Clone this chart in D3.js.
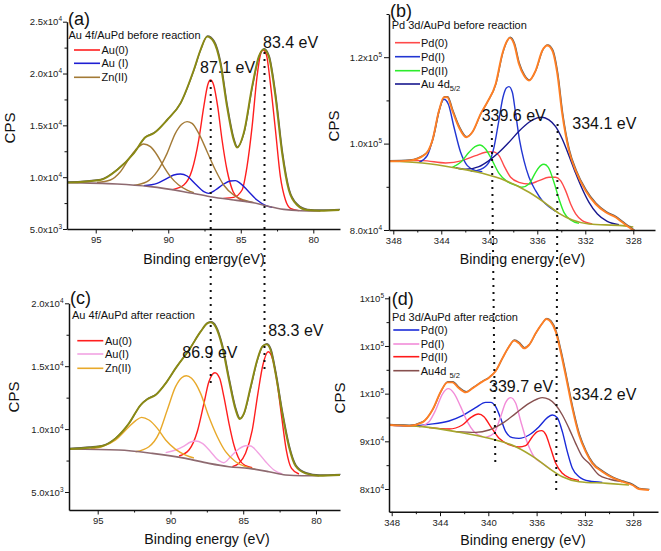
<!DOCTYPE html>
<html><head><meta charset="utf-8">
<script src="https://cdn.jsdelivr.net/npm/d3@7"></script>
<style>body{margin:0;background:#fff}svg{display:block}</style>
</head><body><script>
// ---------- Panel (a): Au 4f before reaction ----------
const aEnvelope = [[96.98,9470],[94.68,9727],[93.53,10692],[92.38,12300],[91.58,13844],[91.0,14230],[90.08,15516],[89.16,17124],[88.24,20340],[87.78,22270],[87.32,23556],[86.87,23074],[86.41,20983],[85.95,16802],[85.49,13586],[85.26,12847],[84.80,14230],[84.22,18732],[83.76,21626],[83.42,22334],[83.07,21626],[82.61,17767],[82.15,12300],[81.69,8762],[81.12,7315],[80.43,6833],[79.51,6768],[78.2,6833]];
const aBackground = [[96.98,9470],[93.53,9341],[91.23,9084],[88.93,8602],[87.09,8119],[85.49,7798],[84.11,7540],[83.19,7219],[82.04,6897],[80.89,6768],[79.51,6736]];
const aAu0Peak1 = [[89.7,8800],[88.93,9245],[88.36,10692],[87.90,13586],[87.55,16802],[87.28,18893],[87.09,19375],[86.87,18893],[86.59,16802],[86.29,13586],[85.95,10692],[85.53,8602],[85.1,7900],[84.6,7650]];
const aAu0Peak2 = [[86.2,7950],[85.5,8050],[84.91,8762],[84.57,11014],[84.22,14873],[83.88,19697],[83.65,21787],[83.46,22270],[83.23,21787],[82.96,19054],[82.61,14551],[82.27,10049],[81.92,7798],[81.58,6994],[81.0,6770]];
const aAuI = [[91.69,9180],[90.77,9406],[90.08,9888],[89.62,10210],[89.16,10306],[88.70,10113],[88.13,9341],[87.55,8602],[87.21,8441],[86.75,8762],[86.18,9341],[85.72,9631],[85.37,9663],[85.03,9406],[84.45,8602],[83.88,7798],[83.30,7283],[82.84,7090]];
const aZnPeak1 = [[94.91,9480],[93.99,9727],[93.30,10531],[92.61,11978],[92.15,12782],[91.69,13200],[91.23,12943],[90.77,12139],[90.31,11014],[89.85,10049],[89.28,9245],[88.70,8762],[88.24,8505]];
const aZnPeak2 = [[92.38,9213],[91.46,9566],[90.77,10531],[90.08,12300],[89.51,14230],[89.05,15130],[88.70,15355],[88.36,15194],[87.90,14230],[87.32,12461],[86.75,10692],[86.18,9245],[85.49,8280],[84.80,7798],[84.11,7540]];

// ---------- Panel (b): Pd 3d before reaction ----------
const bEnvelope = [[348.36,95904],[346.69,96058],[345.30,97602],[344.75,100690],[344.19,107638],[343.78,110726],[343.50,110726],[343.08,107638],[342.53,103778],[341.92,101462],[341.42,102620],[340.72,106866],[340.17,109568],[339.47,113814],[338.92,120762],[338.50,123850],[338.30,124468],[337.94,123078],[337.53,118446],[337.11,115744],[336.69,114586],[336.14,116902],[335.58,121534],[335.17,122692],[334.75,121534],[334.33,116130],[333.92,106866],[333.36,98374],[332.80,93742],[331.97,89110],[331.14,86022],[330.30,84092],[329.47,82934],[328.92,81776],[328.36,80618],[327.94,79846]];
const bBackground = [[348.36,95904],[345.58,95518],[342.80,94360],[340.58,93124],[338.64,91426],[336.69,88724],[335.31,86176],[334.19,83860],[333.08,82316],[331.69,81390],[328.92,81004],[328.0,80700]];
const bPd0 = [[347.80,96058],[345.58,96058],[343.64,95518],[342.25,96058],[341.14,97216],[340.31,97988],[339.75,98142],[339.19,97216],[338.78,94900],[338.22,92198],[337.53,91040],[336.69,90654],[335.86,91426],[335.03,92198],[334.47,92198],[334.06,91426],[333.64,89110],[333.22,86022],[332.80,83706],[332.25,82162],[331.42,81390]];
const bPdIPeak1 = [[345.86,95672],[345.17,97216],[344.61,102234],[344.19,107638],[343.78,110263],[343.42,109182],[342.94,103778],[342.39,97988],[341.83,94900],[341.14,93742],[340.58,93510]];
const bPdIPeak2 = [[341.55,93588],[340.72,94051],[340.03,95672],[339.61,99146],[339.25,104550],[338.86,110726],[338.58,112888],[338.36,113196],[338.08,111884],[337.80,106866],[337.47,100690],[337.11,96058],[336.69,92198],[336.14,89110],[335.58,86794],[335.03,85404],[334.47,84324]];
const bPdII = [[343.08,94514],[342.39,95672],[341.69,97988],[341.19,99300],[340.80,99686],[340.31,98760],[339.75,96058],[339.19,93124],[338.50,91200],[337.80,90400],[337.30,89900],[336.69,90654],[336.14,93356],[335.72,94900],[335.44,95209],[335.08,94514],[334.61,91040],[334.19,87180],[333.78,84092],[333.22,82316],[332.53,81544]];
const bAu4d = [[342.8,94400],[341.97,94051],[340.86,94668],[340.03,96058],[339.19,97988],[338.36,100304],[337.53,102852],[336.69,104936],[336.00,105940],[335.58,106094],[335.03,105476],[334.47,103932],[333.92,101076],[333.36,97216],[332.80,93124],[332.25,89496],[331.69,86408],[330.99,83706],[330.17,82008],[329.19,81236]];

// ---------- Panel (c): Au 4f after reaction ----------
const cEnvelope = [[96.97,8416],[95.60,8522],[94.68,8655],[93.77,9264],[92.85,10457],[92.05,11914],[91.59,12365],[91.02,12709],[90.33,13637],[89.65,14829],[88.73,16287],[87.93,17744],[87.47,18407],[87.24,18486],[86.90,18142],[86.44,16552],[85.98,13902],[85.52,11517],[85.25,10801],[84.95,11252],[84.49,13372],[84.04,15492],[83.69,16552],[83.40,16737],[83.12,16287],[82.78,14432],[82.32,11252],[81.86,8602],[81.40,7065],[80.72,6482],[79.80,6296],[78.35,6349]];
const cBackground = [[96.97,8416],[93.54,8337],[91.25,8072],[88.96,7674],[87.36,7277],[85.98,7012],[84.61,6879],[83.24,6614],[82.09,6349],[80.95,6296],[79.80,6296]];
const cAu0Peak1 = [[89.41,7860],[88.73,8337],[88.16,9794],[87.70,12047],[87.36,13769],[86.94,14485],[86.62,14034],[86.33,12577],[85.98,10457],[85.64,8734],[85.25,7542],[84.84,7091],[84.38,6932]];
const cAu0Peak2 = [[85.75,7012],[85.29,7277],[84.84,8072],[84.38,9927],[83.99,12842],[83.65,15094],[83.28,16154],[82.96,15492],[82.66,13637],[82.36,10987],[82.04,8337],[81.68,6879],[81.17,6429]];
const cAuI = [[90.33,8125],[89.65,8337],[89.07,8655],[88.61,8973],[88.27,9052],[87.81,8867],[87.24,8204],[86.67,7489],[86.33,7330],[85.87,7807],[85.30,8416],[84.84,8681],[84.49,8655],[84.04,8204],[83.46,7409],[82.89,6747],[82.32,6429]];
const cZnPeak1 = [[95.5,8420],[94.68,8602],[93.77,9132],[92.85,10192],[92.39,10669],[91.98,10934],[91.48,10722],[90.90,10059],[90.33,9132],[89.65,8390],[88.96,7939],[88.39,7701]];
const cZnPeak2 = [[92.39,8204],[91.48,8602],[90.79,9662],[90.22,11517],[89.65,13372],[89.23,14087],[88.91,14246],[88.55,14034],[87.93,12842],[87.36,10987],[86.78,9397],[86.21,8204],[85.52,7409],[84.84,7012],[84.15,6800]];

// ---------- Panel (d): Pd 3d after reaction ----------
const dEnvelope = [[348.22,93423],[347.12,93283],[346.56,93250],[345.46,93983],[344.63,96570],[343.94,100415],[343.39,102373],[342.98,102373],[342.43,101114],[341.87,100275],[341.32,101114],[340.49,102513],[339.94,103352],[339.39,104750],[338.84,107407],[338.29,109854],[337.87,111113],[337.46,110554],[337.04,109505],[336.63,110204],[336.08,112651],[335.53,114749],[335.20,115658],[334.84,115098],[334.42,113001],[334.01,108806],[333.60,103911],[333.04,96919],[332.49,91326],[331.94,87830],[331.39,85382],[330.56,83634],[329.73,82376],[328.90,81537],[328.08,80838],[327.53,79999],[326.70,79789]];
const dBackground = [[348.22,93423],[345.46,93074],[342.70,92025],[339.94,90626],[337.73,88878],[336.08,86431],[334.97,84334],[333.87,82586],[332.49,81537],[330.16,81187],[328.35,80838]];
const dPd0 = [[348.22,93423],[346.56,93213],[344.91,93563],[343.25,94262],[342.15,95381],[341.05,97059],[340.22,98178],[339.80,98178],[339.39,97269],[338.98,94822],[338.56,92025],[338.01,90766],[337.46,90626],[336.63,91326],[335.80,93074],[335.11,94961],[334.70,95521],[334.29,94961],[333.87,92025],[333.46,87830],[333.04,84334],[332.49,82586],[331.66,81677],[330.56,81397]];
const dPdIPeak1 = [[345.74,93004],[344.91,94122],[344.36,96570],[343.81,99856],[343.31,101044],[342.84,100066],[342.29,97269],[341.74,94122],[341.18,92025],[340.49,90976]];
const dPdIPeak2 = [[340.22,90800],[339.53,91675],[338.98,95171],[338.56,98178],[338.15,99157],[337.73,97968],[337.32,94262],[336.85,90277],[336.22,86781],[335.53,85400],[334.84,84150]];
const dPdII = [[344.91,92864],[343.25,92584],[342.15,93423],[341.46,94961],[340.82,95731],[340.36,95171],[339.80,93074],[339.11,90626],[338.29,89300],[337.46,88800],[336.91,89088],[336.35,90976],[335.94,92025],[335.58,92235],[335.25,91465],[334.84,88529],[334.42,85382],[333.87,83285],[333.18,82236],[332.49,81816]];
const dAu4d = [[342.70,92025],[341.05,91885],[339.94,92374],[338.84,93773],[337.73,95870],[336.63,97968],[335.94,98877],[335.53,99157],[334.97,98807],[334.42,97618],[333.87,95521],[333.32,92724],[332.77,89578],[332.22,86781],[331.66,85382],[330.84,82935],[330.01,82096],[328.90,81537]];

// ---------- ticks and labels ----------
const auXMajor = [95, 90, 85, 80];
const auXMinor = [92.5, 87.5, 82.5];
const pdXMajor = [348, 344, 340, 336, 332, 328];
const pdXMinor = [346, 342, 338, 334, 330];
const aYMajor = [5000, 10000, 15000, 20000, 25000];
const aYMinor = [7500, 12500, 17500, 22500];
const aYLabels = [["5.0x10","3"],["1.0x10","4"],["1.5x10","4"],["2.0x10","4"],["2.5x10","4"]];
const bYMajor = [80000, 100000, 120000];
const bYMinor = [90000, 110000, 130000];
const bYLabels = [["8.0x10","4"],["1.0x10","5"],["1.2x10","5"]];
const cYMajor = [5000, 10000, 15000, 20000];
const cYMinor = [7500, 12500, 17500];
const cYLabels = [["5.0x10","3"],["1.0x10","4"],["1.5x10","4"],["2.0x10","4"]];
const dYMajor = [80000, 90000, 100000, 110000, 120000];
const dYMinor = [85000, 95000, 105000, 115000];
const dYLabels = [["8x10","4"],["9x10","4"],["1x10","5"],["1x10","5"],["1x10","5"]];

const aLegend = [["Au(0)",""],["Au (I)",""],["Zn(II)",""]];
const bLegend = [["Pd(0)",""],["Pd(I)",""],["Pd(II)",""],["Au 4d","5/2"]];
const cLegend = [["Au(0)",""],["Au(I)",""],["Zn(II)",""]];
const dLegend = [["Pd(0)",""],["Pd(I)",""],["Pd(II)",""],["Au4d ","5/2"]];

const peakLabelsA = ["87.1 eV", "83.4 eV"];
const peakLabelsB = ["339.6 eV", "334.1 eV"];
const peakLabelsC = ["86.9 eV", "83.3 eV"];
const peakLabelsD = ["339.7 eV", "334.2 eV"];

// ---------- drawing ----------
const FONT = 'Arial, "Liberation Sans", sans-serif';
const svg = d3.select("body").append("svg").attr("width", 661).attr("height", 551)
  .style("font-family", FONT);

const OLIVE = "#8a8a14", BGPURP = "#8e6a70", ORANGE = "#ff7f24", YOLIVE = "#a6a62c";

const panels = [
  { letter:"(a)", lx:68, ly:24.5, title:"Au 4f/AuPd before reaction", tx:68.5, ty:39.3,
    px:[67,340], py:[229,21.7], xd:[96.98,78.16], yd:[5000,25000],
    xMaj:auXMajor, xMin:auXMinor, yMaj:aYMajor, yMin:aYMinor, yLab:aYLabels, yTick:4, yPad:1,
    xlabel:"Binding energy(eV)", xlx:204, xly:263.5, cpsX:15, cpsY:128,
    env:aEnvelope, envColor:OLIVE, bg:aBackground, bgColor:BGPURP,
    comps:[{d:[aAu0Peak1,aAu0Peak2], c:"#ff1e1e"},{d:[aAuI], c:"#1e1ed2"},{d:[aZnPeak1,aZnPeak2], c:"#a37a36"}],
    legend:aLegend, legX:[74,100,101.5], legY:[50,63.3,77.3],
    peaks:peakLabelsA, pk:[[200,73],[263,48]] },
  { letter:"(b)", lx:390, ly:17, title:"Pd 3d/AuPd before reaction", tx:391.7, ty:29.3,
    px:[389,655], py:[230,14], xd:[348.358,326.19], yd:[80000,130000],
    xMaj:pdXMajor, xMin:pdXMinor, yMaj:bYMajor, yMin:bYMinor, yLab:bYLabels, yTick:5, yPad:2,
    xlabel:"Binding energy (eV)", xlx:522.5, xly:264, cpsX:338.5, cpsY:126,
    env:bEnvelope, envColor:ORANGE, bg:bBackground, bgColor:YOLIVE,
    comps:[{d:[bPd0], c:"#ff4a4a"},{d:[bPdIPeak1,bPdIPeak2], c:"#2236d2"},{d:[bPdII], c:"#2cec2c"},{d:[bAu4d], c:"#18188e"}],
    legend:bLegend, legX:[395,420,421], legY:[42.7,56.7,70.7,84],
    peaks:peakLabelsB, pk:[[481.7,121],[572.3,129]] },
  { letter:"(c)", lx:70, ly:303.5, title:"Au 4f/AuPd after reaction", tx:72, ty:319.3,
    px:[69,340], py:[510,303.3], xd:[96.972,78.35], yd:[3569,20000],
    xMaj:auXMajor, xMin:auXMinor, yMaj:cYMajor, yMin:cYMinor, yLab:cYLabels, yTick:4, yPad:1.5,
    xlabel:"Binding energy (eV)", xlx:207, xly:544, cpsX:18.5, cpsY:397,
    env:cEnvelope, envColor:OLIVE, bg:cBackground, bgColor:BGPURP,
    comps:[{d:[cAu0Peak1,cAu0Peak2], c:"#ff1e1e"},{d:[cAuI], c:"#f2a2e2"},{d:[cZnPeak1,cZnPeak2], c:"#e8a92a"}],
    legend:cLegend, legX:[77.3,103.3,105], legY:[340.7,354,368.3],
    peaks:peakLabelsC, pk:[[182.3,358],[268.3,336]] },
  { letter:"(d)", lx:391.7, ly:304.5, title:"Pd 3d/AuPd after reaction", tx:392, ty:321,
    px:[389,658], py:[511.7,296], xd:[348.2235,325.95], yd:[75239,120482],
    xMaj:pdXMajor, xMin:pdXMinor, yMaj:dYMajor, yMin:dYMinor, yLab:dYLabels, yTick:4, yPad:1,
    xlabel:"Binding energy (eV)", xlx:523, xly:545, cpsX:345, cpsY:398,
    env:dEnvelope, envColor:ORANGE, bg:dBackground, bgColor:YOLIVE,
    comps:[{d:[dPd0], c:"#1a2ad8"},{d:[dPdIPeak1,dPdIPeak2], c:"#f28cd8"},{d:[dPdII], c:"#ff1a1a"},{d:[dAu4d], c:"#87504f"}],
    legend:dLegend, legX:[393.3,419.3,420.7], legY:[330,344,356.7,370.7],
    peaks:peakLabelsD, pk:[[489,392],[572.3,400]] }
];

panels.forEach(p => {
  const x = d3.scaleLinear().domain(p.xd).range(p.px);
  const y = d3.scaleLinear().domain(p.yd).range(p.py);
  const g = svg.append("g");
  const line = d3.line().x(d => x(d[0])).y(d => y(d[1])).curve(d3.curveMonotoneX);

  // components
  p.comps.forEach(c => c.d.forEach(arr => {
    g.append("path").attr("d", line(arr)).attr("fill","none").attr("stroke", c.c).attr("stroke-width", 1.4);
  }));
  // background
  g.append("path").attr("d", line(p.bg)).attr("fill","none").attr("stroke", p.bgColor).attr("stroke-width", 1.6);
  // raw data (gray) + envelope
  g.append("path").attr("d", line(p.env)).attr("fill","none").attr("stroke","#5a5a5a").attr("stroke-width",1.3)
    .attr("transform","translate(0.5,-0.7)");
  g.append("path").attr("d", line(p.env)).attr("fill","none").attr("stroke", p.envColor).attr("stroke-width", 1.9);

  // axes
  const yAx = g.append("g").attr("transform", `translate(${p.px[0]},0)`)
    .call(d3.axisLeft(y).tickValues(p.yMaj).tickSize(p.yTick).tickSizeOuter(0).tickPadding(p.yPad).tickFormat(""));
  g.append("g").attr("transform", `translate(${p.px[0]},0)`)
    .call(d3.axisLeft(y).tickValues(p.yMin).tickSize(2.5).tickSizeOuter(0).tickFormat(""))
    .call(s => s.select(".domain").remove());
  yAx.selectAll(".tick text").each(function(d, i) {
    const t = d3.select(this).attr("font-size", 9.5).attr("font-family", FONT).attr("fill","#222");
    t.append("tspan").text(p.yLab[i][0]);
    t.append("tspan").attr("dy", -4).attr("font-size", 6.5).text(p.yLab[i][1]);
  });
  const xAx = g.append("g").attr("transform", `translate(0,${p.py[0]})`)
    .call(d3.axisBottom(x).tickValues(p.xMaj).tickSize(4.5).tickSizeOuter(0).tickPadding(3).tickFormat(d3.format("d")));
  xAx.selectAll(".tick text").attr("font-size", 9.5).attr("font-family", FONT).attr("fill","#222");
  g.append("g").attr("transform", `translate(0,${p.py[0]})`)
    .call(d3.axisBottom(x).tickValues(p.xMin).tickSize(2.5).tickSizeOuter(0).tickFormat(""))
    .call(s => s.select(".domain").remove());
  g.selectAll(".domain").attr("stroke", "#111").attr("stroke-width", 1.5);
  g.selectAll(".tick line").attr("stroke", "#111").attr("stroke-width", 1);

  // axis titles
  g.append("text").attr("x", p.xlx).attr("y", p.xly).attr("text-anchor","middle")
    .attr("font-size", 14.2).attr("fill","#111").text(p.xlabel);
  g.append("text").attr("transform", `translate(${p.cpsX},${p.cpsY}) rotate(-90)`)
    .attr("text-anchor","middle").attr("font-size", 15).attr("fill","#111").text("CPS");

  // panel letter and title
  g.append("text").attr("x", p.lx).attr("y", p.ly).attr("font-size", 18).attr("fill","#111").text(p.letter);
  g.append("text").attr("x", p.tx).attr("y", p.ty).attr("font-size", 11).attr("fill","#111").text(p.title);

  // legend
  p.legend.forEach((lab, i) => {
    const yy = p.legY[i];
    g.append("line").attr("x1", p.legX[0]).attr("x2", p.legX[1]).attr("y1", yy).attr("y2", yy)
      .attr("stroke", p.comps[i].c).attr("stroke-width", 1.6);
    const t = g.append("text").attr("x", p.legX[2]).attr("y", yy + 3.9).attr("font-size", 11).attr("fill","#111");
    t.append("tspan").text(lab[0]);
    if (lab[1]) t.append("tspan").attr("dy", 3).attr("font-size", 7.5).text(lab[1]);
  });

  // peak labels
  p.peaks.forEach((lab, i) => {
    g.append("text").attr("x", p.pk[i][0]).attr("y", p.pk[i][1]).attr("font-size", 16).attr("fill","#111").text(lab);
  });
});

// dotted guide lines spanning panels
const guides = [
  [[210.7, 80], [210.7, 386]],
  [[264.5, 52], [264.5, 372]],
  [[491.7, 124], [495.3, 462]],
  [[557.6, 124], [556.2, 491]]
];
guides.forEach(gl => {
  svg.append("line").attr("x1", gl[0][0]).attr("y1", gl[0][1]).attr("x2", gl[1][0]).attr("y2", gl[1][1])
    .attr("stroke", "#111").attr("stroke-width", 2).attr("stroke-dasharray", "2,5");
});
</script></body></html>
